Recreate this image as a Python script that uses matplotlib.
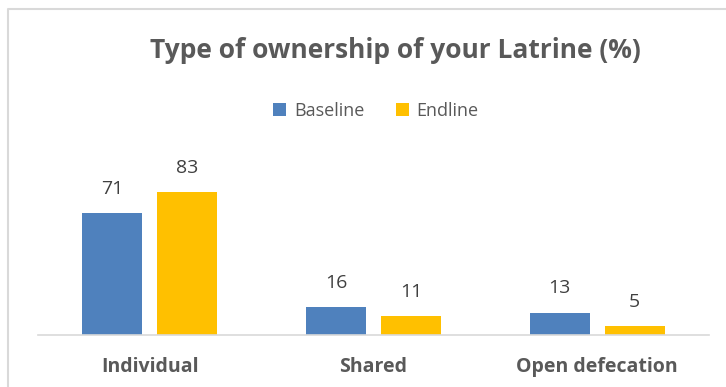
import numpy as np
import matplotlib.pyplot as plt
from matplotlib.lines import Line2D

categories = ["Individual", "Shared", "Open defecation"]
baseline = [71, 16, 13]
endline = [83, 11, 5]
series_names = ["Baseline", "Endline"]

plt.rcParams['font.family'] = ['Open Sans', 'DejaVu Sans']

fig = plt.figure(figsize=(7.26, 3.87), dpi=100)
# chart border (only top and left are inside the crop)
fig.lines.append(Line2D([8 / 726, 8 / 726, 1], [0, 1 - 9 / 387, 1 - 9 / 387],
                        transform=fig.transFigure, color='#d9d9d9', linewidth=1.5))

ax = fig.add_axes([38 / 726, (387 - 335) / 387, 671 / 726, 172 / 387])
x = np.arange(len(categories))
w = 0.268
off = 0.168
b1 = ax.bar(x - off, baseline, w, color='#4f81bd', label=series_names[0])
b2 = ax.bar(x + off, endline, w, color='#ffc000', label=series_names[1])
for bars in (b1, b2):
    for r in bars:
        ax.annotate(f"{r.get_height():.0f}", (r.get_x() + r.get_width() / 2, r.get_height()),
                    xytext=(0, 11), textcoords='offset points', ha='center', va='bottom',
                    fontsize=14, color='#404040')

ax.set_xlim(-0.5, 2.5)
ax.set_ylim(0, 100)
ax.set_yticks([])
ax.set_xticks(x)
ax.set_xticklabels(categories, fontsize=14, fontweight='bold', color='#595959')
ax.tick_params(axis='x', length=0, pad=16)
for s in ['top', 'right', 'left']:
    ax.spines[s].set_visible(False)
ax.spines['bottom'].set_color('#d9d9d9')
ax.spines['bottom'].set_linewidth(1.2)

fig.text(395 / 726, 1 - 50 / 387, "Type of ownership of your Latrine (%)", ha='center', va='center',
         fontsize=19, fontweight='bold', color='#595959')
fig.legend(handles=[b1, b2], loc='center', bbox_to_anchor=(376 / 726, 1 - 111 / 387),
           ncol=2, frameon=False, fontsize=13, handlelength=0.7, handleheight=0.7,
           handletextpad=0.45, columnspacing=1.75, labelcolor='#595959')

fig.savefig("out.png", dpi=100)
